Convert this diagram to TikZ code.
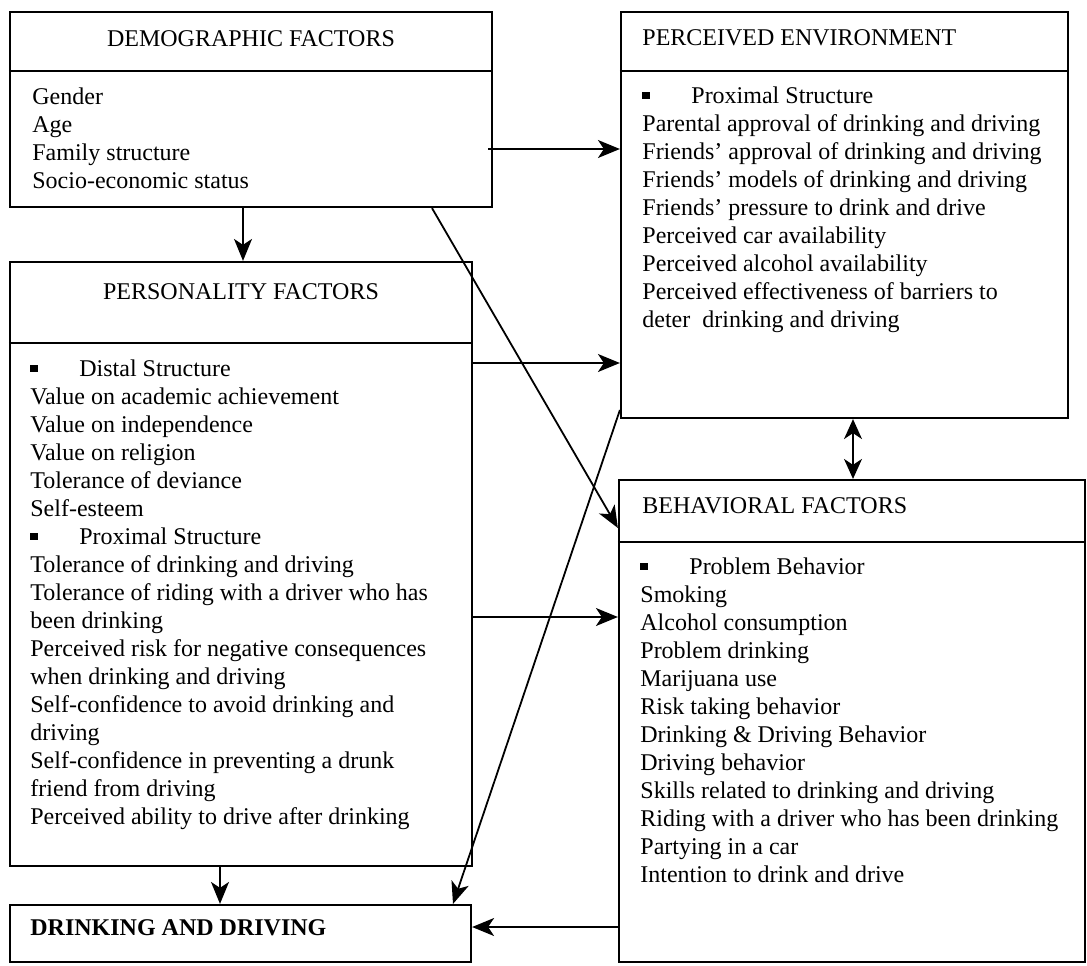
\documentclass[tikz,border=0pt]{standalone}
\usepackage{fontspec}
\setmainfont{Liberation Serif}
\usetikzlibrary{arrows.meta, fit, calc}

\newcommand{\sqbullet}{\makebox[24.5pt][l]{\rule[2pt]{3.8pt}{3.6pt}}}

\tikzset{
  factorbox/.style={draw, line width=1.1pt, inner sep=0pt},
  boxtitle/.style={inner sep=0pt, font=\fontsize{12}{14}\selectfont},
  itemlist/.style={inner sep=0pt, anchor=north west, align=left, font=\fontsize{12}{14}\selectfont},
  link/.style={line width=0.9pt, -{Stealth[length=11pt, width=9pt, inset=3pt]}},
  twoway/.style={line width=0.9pt, {Stealth[length=10pt, width=9pt, inset=3pt]}-{Stealth[length=10pt, width=9pt, inset=3pt]}},
}

\begin{document}
\begin{tikzpicture}[x=0.5pt, y=-0.5pt]
  \useasboundingbox (0,0) rectangle (1087,965);

  % frames
  \node[factorbox, fit={(10,12) (492,207)}] (demo) {};
  \node[factorbox, fit={(621,12) (1068,418)}] (envir) {};
  \node[factorbox, fit={(10,262) (472,866)}] (pers) {};
  \node[factorbox, fit={(619,480) (1085,962)}] (behav) {};
  \node[factorbox, fit={(10,905) (471,962)}] (drink) {};

  % header rules
  \draw[line width=1.1pt] (demo.west |- 0,71) -- (demo.east |- 0,71);
  \draw[line width=1.1pt] (envir.west |- 0,71) -- (envir.east |- 0,71);
  \draw[line width=1.1pt] (pers.west |- 0,343) -- (pers.east |- 0,343);
  \draw[line width=1.1pt] (behav.west |- 0,542) -- (behav.east |- 0,542);

  % titles
  \node[boxtitle] (demotitle) at (251,39) {DEMOGRAPHIC FACTORS};
  \node[boxtitle, anchor=west] (envirtitle) at (642,38) {PERCEIVED ENVIRONMENT};
  \node[boxtitle] (perstitle) at (241,292) {PERSONALITY FACTORS};
  \node[boxtitle, anchor=west] (behavtitle) at (642,506) {BEHAVIORAL FACTORS};
  \node[boxtitle, anchor=west, font=\fontsize{12}{14}\selectfont\bfseries] (drinktitle) at (30,928) {DRINKING AND DRIVING};

  % item lists
  \node[itemlist] (demolist) at (32,87) {Gender\\ Age\\ Family structure\\ Socio-economic status};
  \node[itemlist] (envirlist) at (642,86) {\sqbullet Proximal Structure\\
    Parental approval of drinking and driving\\
    Friends' approval of drinking and driving\\
    Friends' models of drinking and driving\\
    Friends' pressure to drink and drive\\
    Perceived car availability\\
    Perceived alcohol availability\\
    Perceived effectiveness of barriers to\\
    deter\ \ drinking and driving};
  \node[itemlist] (perslist) at (30,359) {\sqbullet Distal Structure\\
    Value on academic achievement\\
    Value on independence\\
    Value on religion\\
    Tolerance of deviance\\
    Self-esteem\\
    \sqbullet Proximal Structure\\
    Tolerance of drinking and driving\\
    Tolerance of riding with a driver who has\\
    been drinking\\
    Perceived risk for negative consequences\\
    when drinking and driving\\
    Self-confidence to avoid drinking and\\
    driving\\
    Self-confidence in preventing a drunk\\
    friend from driving\\
    Perceived ability to drive after drinking};
  \node[itemlist] (behavlist) at (640,557) {\sqbullet Problem Behavior\\
    Smoking\\
    Alcohol consumption\\
    Problem drinking\\
    Marijuana use\\
    Risk taking behavior\\
    Drinking \& Driving Behavior\\
    Driving behavior\\
    Skills related to drinking and driving\\
    Riding with a driver who has been drinking\\
    Partying in a car\\
    Intention to drink and drive};

  % paths
  \draw[link] ([xshift=-2.5pt]demo.east |- 0,149) -- (envir.west |- 0,149);
  \draw[link] (demo.south -| 243,0) -- (pers.north -| 243,0);
  \draw[link] (demo.south -| 432,0) -- (behav.west |- 0,528);
  \draw[link] (pers.east |- 0,363) -- (envir.west |- 0,363);
  \draw[link] (pers.east |- 0,617) -- (behav.west |- 0,617);
  \draw[twoway] (envir.south -| 853,0) -- (behav.north -| 853,0);
  \draw[link] (envir.west |- 0,410) -- (drink.north -| 453,0);
  \draw[link] (pers.south -| 220,0) -- (drink.north -| 220,0);
  \draw[link] (behav.west |- 0,927) -- (drink.east |- 0,927);
\end{tikzpicture}
\end{document}
